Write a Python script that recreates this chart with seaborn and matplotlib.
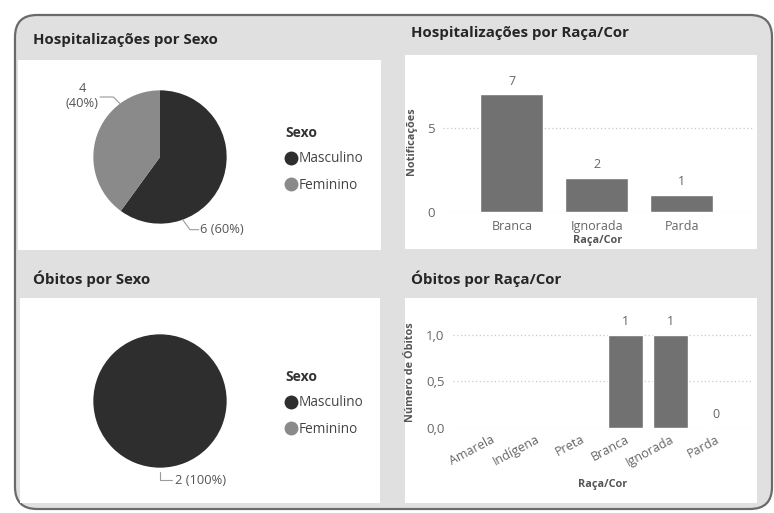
import numpy as np
import pandas as pd
import matplotlib.pyplot as plt
import seaborn as sns
from matplotlib.patches import FancyBboxPatch, Rectangle
from matplotlib.lines import Line2D
from matplotlib.ticker import FuncFormatter

# dados
sexo = ['Masculino', 'Feminino']
hosp_sexo = [6, 4]
obitos_sexo = [2, 0]

raca_hosp = ['Branca', 'Ignorada', 'Parda']
hosp_raca = [7, 2, 1]

raca_obitos = ['Amarela', 'Indígena', 'Preta', 'Branca', 'Ignorada', 'Parda']
obitos_raca = [np.nan, np.nan, np.nan, 1, 1, 0]

dark = '#2e2e2e'
light = '#8a8a8a'
bar_c = '#717171'

sns.set_theme(style='white')
plt.rcParams['font.family'] = ['Open Sans', 'DejaVu Sans']

W, H = 774, 513
fig = plt.figure(figsize=(W / 100, H / 100), dpi=100)
fig.patch.set_facecolor('white')


def px(x0, y0, x1, y1):
    return [x0 / W, 1 - y1 / H, (x1 - x0) / W, (y1 - y0) / H]


# fundo do painel
bg = fig.add_axes([0, 0, 1, 1], zorder=-1)
bg.set_xlim(0, W)
bg.set_ylim(H, 0)
bg.axis('off')
bg.add_patch(FancyBboxPatch((15, 15), 757, 494, boxstyle='round,pad=0,rounding_size=22',
                            facecolor='#e0e0e0', edgecolor='#6a6a6a', linewidth=1.6))
for (x0, y0, x1, y1) in [(18, 60, 381, 250), (405, 55, 757, 249),
                         (20, 298, 380, 503), (405, 298, 757, 503)]:
    bg.add_patch(Rectangle((x0, y0), x1 - x0, y1 - y0, facecolor='white', edgecolor='none'))

title_kw = dict(fontsize=10.8, fontweight='bold', color='#262626', va='center', ha='left')
bg.text(33, 40, 'Hospitalizações por Sexo', **title_kw)
bg.text(411, 33, 'Hospitalizações por Raça/Cor', **title_kw)
bg.text(33, 279, 'Óbitos por Sexo', **title_kw)
bg.text(411, 279, 'Óbitos por Raça/Cor', **title_kw)


def pie_panel(cx, cy, values, legend_y):
    ax = fig.add_axes(px(cx - 100, cy - 100, cx + 100, cy + 100))
    ax.pie(values, colors=[dark, light], startangle=90, counterclock=False,
           wedgeprops=dict(linewidth=0))
    ax.set_xlim(-1.5, 1.5)
    ax.set_ylim(-1.5, 1.5)
    ax.axis('off')
    handles = [Line2D([], [], marker='o', linestyle='', markersize=9,
                      markerfacecolor=c, markeredgecolor=c) for c in [dark, light]]
    leg = ax.legend(handles, sexo, title='Sexo', loc='upper left',
                    bbox_to_anchor=(279, legend_y), bbox_transform=bg.transData,
                    frameon=False, alignment='left', handlelength=0.7,
                    handletextpad=0.25, labelspacing=0.85, borderpad=0,
                    prop=dict(size=9.8), title_fontproperties=dict(size=10, weight='bold'))
    for t in leg.get_texts():
        t.set_color('#444444')
    leg.get_title().set_color('#333333')
    return ax


lab_kw = dict(fontsize=9.3, color='#555555', va='center')
total1 = sum(hosp_sexo)
ax1 = pie_panel(160, 157, hosp_sexo, 119)
ax1.plot([0.34, 0.45, 0.58], [-0.94, -1.09, -1.09], color='#9a9a9a', lw=0.8)
ax1.text(0.6, -1.09, f'{hosp_sexo[0]} ({hosp_sexo[0] / total1:.0%})', ha='left', **lab_kw)
ax1.plot([-0.6, -0.7, -0.9], [0.8, 0.9, 0.9], color='#9a9a9a', lw=0.8)
ax1.text(-0.92, 0.92, f'{hosp_sexo[1]}\n({hosp_sexo[1] / total1:.0%})', ha='right',
         multialignment='center', **lab_kw)

total2 = sum(obitos_sexo)
ax3 = pie_panel(160, 401, obitos_sexo, 363)
ax3.plot([0, 0, 0.18], [-1.06, -1.19, -1.19], color='#9a9a9a', lw=0.8)
ax3.text(0.22, -1.19, f'{obitos_sexo[0]} ({obitos_sexo[0] / total2:.0%})', ha='left', **lab_kw)


def style_bar_axes(ax):
    sns.despine(ax=ax, left=True, bottom=True)
    ax.grid(axis='y', linestyle=(0, (1, 2)), color='#c8c8c8', linewidth=0.9)
    ax.set_axisbelow(True)
    ax.tick_params(axis='both', length=0, labelsize=9, labelcolor='#666666')
    ax.tick_params(axis='y', pad=6, labelsize=9.5)


# barras hospitalizações
ax2 = fig.add_axes(px(443, 71, 753, 212))
df2 = pd.DataFrame({'raca': raca_hosp, 'n': hosp_raca})
sns.barplot(data=df2, x='raca', y='n', ax=ax2, color=bar_c, width=0.74,
            errorbar=None, saturation=1)
style_bar_axes(ax2)
ax2.tick_params(axis='x', pad=6)
ax2.set_xlim(-0.81, 2.84)
ax2.set_ylim(0, 8.4)
ax2.set_yticks([0, 5])
for i, v in enumerate(hosp_raca):
    ax2.annotate(str(v), (i, v), xytext=(0, 5), textcoords='offset points',
                 ha='center', va='bottom', fontsize=9, color='#666666')
ax2.set_xlabel('Raça/Cor', fontsize=7.8, fontweight='bold', color='#555555', labelpad=1)
ax2.set_ylabel('Notificações', fontsize=7.8, fontweight='bold', color='#555555')
ax2.yaxis.set_label_coords(-0.083, 0.5)

# barras óbitos
ax4 = fig.add_axes(px(453, 307, 752, 428))
df4 = pd.DataFrame({'raca': raca_obitos, 'n': obitos_raca})
sns.barplot(data=df4, x='raca', y='n', order=raca_obitos, ax=ax4, color=bar_c,
            width=0.78, errorbar=None, saturation=1)
style_bar_axes(ax4)
ax4.set_xlim(-0.83, 5.81)
ax4.set_ylim(0, 1.3)
ax4.set_yticks([0, 0.5, 1.0])
ax4.yaxis.set_major_formatter(FuncFormatter(lambda v, p: f'{v:.1f}'.replace('.', ',')))
ax4.set_xticks(range(len(raca_obitos)))
ax4.set_xticklabels(raca_obitos, rotation=28, ha='right', rotation_mode='anchor')
for i, v in enumerate(obitos_raca):
    if not np.isnan(v):
        ax4.annotate(f'{v:.0f}', (i, v), xytext=(0, 5), textcoords='offset points',
                     ha='center', va='bottom', fontsize=9, color='#666666')
ax4.set_xlabel('Raça/Cor', fontsize=7.8, fontweight='bold', color='#555555', labelpad=7)
ax4.set_ylabel('Número de Óbitos', fontsize=7.8, fontweight='bold', color='#555555')
ax4.yaxis.set_label_coords(-0.125, 0.46)

fig.savefig('out.png', dpi=100)
